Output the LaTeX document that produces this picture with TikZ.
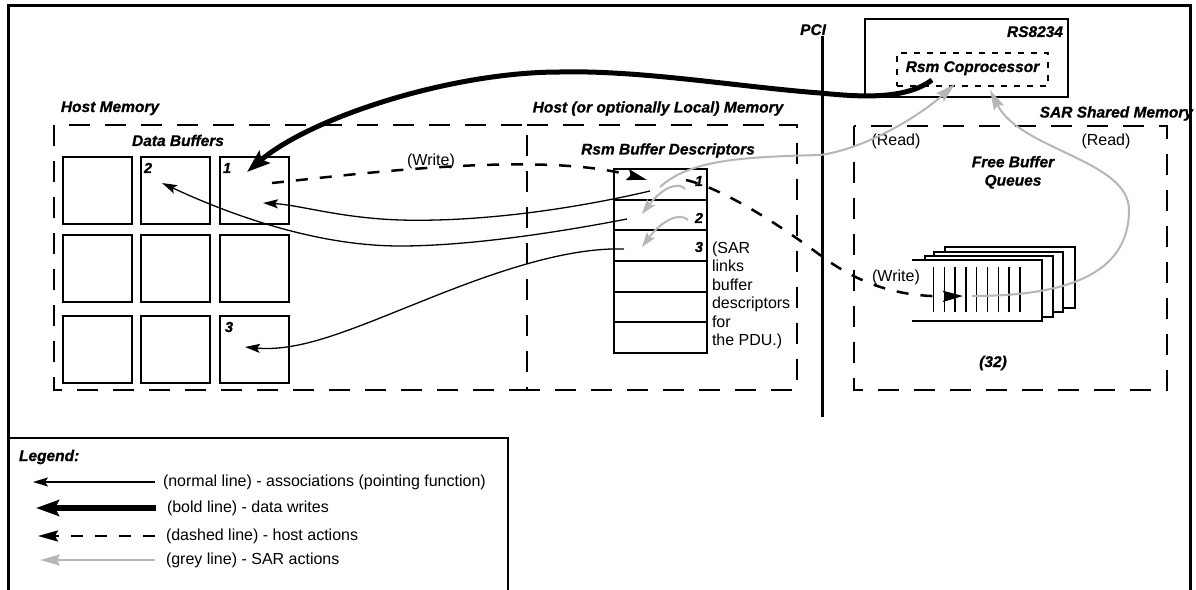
\documentclass[tikz,border=0pt]{standalone}
\usepackage{fontspec}
\setmainfont{Liberation Sans}[BoldItalicFeatures={FakeBold=0.8}]
\usetikzlibrary{arrows.meta}
\definecolor{sargrey}{RGB}{182,182,182}
\begin{document}
\begin{tikzpicture}[x=1bp,y=-1bp,
  every node/.style={inner sep=0pt, outer sep=0pt},
  ttl/.style={font=\fontsize{15.5bp}{18.4bp}\selectfont\bfseries\itshape},
  num/.style={font=\fontsize{14.5bp}{16bp}\selectfont\bfseries\itshape},
  txt/.style={font=\fontsize{16bp}{18.4bp}\selectfont},
  frame/.style={line width=3bp},
  boxline/.style={line width=2.2bp},
  region/.style={line width=2bp, dash pattern=on 21bp off 15bp},
  bufbox/.style={draw, line width=2.2bp, minimum width=69bp, minimum height=67bp},
  descrow/.style={draw, line width=2bp, minimum width=93bp, minimum height=30.7bp},
  queuebox/.style={draw, fill=white, line width=2.2bp},
  slot/.style={line width=1.3bp},
  assoc/.style={line width=1.3bp, -{Stealth[length=15bp,width=9bp,inset=3bp]}},
  datawrite/.style={line width=5bp, -{Stealth[length=23bp,width=16bp,inset=4bp]}},
  hostact/.style={line width=2.5bp, dash pattern=on 12bp off 12bp, -{Stealth[length=20bp,width=11bp,inset=3bp]}},
  saract/.style={line width=2bp, draw=sargrey, -{Stealth[length=20bp,width=11bp,inset=3bp,sargrey]}},
  sarhook/.style={line width=2bp, draw=sargrey, -{Stealth[length=15bp,width=10bp,inset=3bp,sargrey]}},
]
\useasboundingbox (0,0) rectangle (1196,590);

% ---- outer frame (open at the bottom) and legend box ----
\draw[frame] (8,590) -- (8,6) -- (1190,6) -- (1190,590);
\draw[boxline] (8,438) -- (508,438) -- (508,590);

% ---- memory regions ----
\draw[region] (54,125) rectangle (527,390);
\draw[region] (527,125) -- (797,125) -- (797,390) -- (527,390);
\draw[region] (854,126) rectangle (1167,390);

\node[ttl, anchor=base] (hostmem) at (110,112) {Host Memory};
\node[ttl, anchor=base] (databufs) at (178,146) {Data Buffers};
\node[ttl, anchor=base] (localmem) at (658,112.5) {Host (or optionally Local) Memory};
\node[ttl, anchor=base] (rsmdesc) at (668,154.5) {Rsm Buffer Descriptors};
\node[ttl, anchor=base east] (sarmem) at (1193,117.5) {SAR Shared Memory};

% ---- PCI bus ----
\node[ttl, anchor=base east] (pci) at (826,35) {PCI};
\coordinate (pciTop) at (822,36);
\coordinate (pciBot) at (822,417);
\draw[frame] (pciTop) -- (pciBot);

% ---- RS8234 with its coprocessor ----
\node[draw, line width=2bp, minimum width=203bp, minimum height=78bp] (chip) at (966.5,58) {};
\node[ttl, anchor=base east] (chipname) at (1063,37) {RS8234};
\node[draw, line width=1.8bp, dash pattern=on 6bp off 7bp, minimum width=151bp, minimum height=33bp] (cop) at (972.5,69.5) {};
\node[ttl, anchor=base] (copname) at (972.5,72) {Rsm Coprocessor};

% ---- data buffers (3 x 3) ----
\node[bufbox] (b11) at (97.5,190.5) {};
\node[bufbox] (b12) at (175.5,190.5) {};
\node[bufbox] (b13) at (254.5,190.5) {};
\node[bufbox] (b21) at (97.5,268.5) {};
\node[bufbox] (b22) at (175.5,268.5) {};
\node[bufbox] (b23) at (254.5,268.5) {};
\node[bufbox] (b31) at (97.5,349.5) {};
\node[bufbox] (b32) at (175.5,349.5) {};
\node[bufbox] (b33) at (254.5,349.5) {};
\node[num, anchor=base west] (n2) at (144,173) {2};
\node[num, anchor=base west] (n1) at (223,173) {1};
\node[num, anchor=base west] (n3) at (225,332) {3};

% ---- buffer descriptors ----
\node[descrow] (d1) at (660.5,184.3) {};
\node[descrow] (d2) at (660.5,215) {};
\node[descrow] (d3) at (660.5,245.7) {};
\node[descrow] (d4) at (660.5,276.3) {};
\node[descrow] (d5) at (660.5,307) {};
\node[descrow] (d6) at (660.5,337.7) {};
\node[num, anchor=base east] (dn1) at (703,186) {1};
\node[num, anchor=base east] (dn2) at (703,223) {2};
\node[num, anchor=base east] (dn3) at (703,252) {3};
\node[txt, anchor=north west, align=left] (sarnote) at (712,242)
  {(SAR\\links\\buffer\\descriptors\\for\\the PDU.)};

% ---- free buffer queues ----
\node[ttl, anchor=north, align=center] (fbq) at (1013,156) {Free Buffer\\Queues};
\node[queuebox, minimum width=130bp, minimum height=61bp] (q4) at (1010,277.5) {};
\node[queuebox, minimum width=129bp, minimum height=60bp] (q3) at (998.5,282) {};
\node[queuebox, minimum width=128bp, minimum height=61bp] (q2) at (989,286.5) {};
\node[fill=white, minimum width=130bp, minimum height=61bp] (q1) at (977,290.5) {};
\draw[boxline] (q1.north west) -- (q1.north east) -- (q1.south east) -- (q1.south west);
\foreach \i in {0,...,8}
  \draw[slot] (933.5+10.8*\i,267) -- (933.5+10.8*\i,312);
\node[ttl, anchor=base] (count) at (993,367) {(32)};

% ---- action labels ----
\node[txt, anchor=base] (readL) at (896,146) {(Read)};
\node[txt, anchor=base] (readR) at (1106,146) {(Read)};
\node[txt, anchor=base] (writeL) at (431,165.5) {(Write)};
\node[txt, anchor=base] (writeR) at (896,282) {(Write)};

% ---- connector end points ----
\coordinate (copOut) at (932,80);
\coordinate (b13in) at (247,172);
\coordinate (b13src) at (272,183);
\coordinate (d1in) at (647,180);
\coordinate (d1src) at (686,180);
\coordinate (q1in) at (963,296);
\coordinate (q1src) at (972,296);
\coordinate (d1read) at (660,187);
\coordinate (copInL) at (955,84);
\coordinate (copInR) at (990,90);
\coordinate (d1hook) at (685,189);
\coordinate (d2tip) at (642,214);
\coordinate (d2hook) at (688,220);
\coordinate (d3tip) at (642,247);
\coordinate (d1ptr) at (650,191);
\coordinate (b13ptr) at (263,203);
\coordinate (d2ptr) at (627,219);
\coordinate (b12ptr) at (162,183);
\coordinate (d3ptr) at (624,249);
\coordinate (b33ptr) at (245,347);

% ---- associations (pointers) ----
\draw[assoc] (d1ptr) .. controls (560,212) and (470,222) .. (400,220)
                     .. controls (340,218) and (300,205) .. (b13ptr);
\draw[assoc] (d2ptr) .. controls (560,232) and (470,246) .. (400,246)
                     .. controls (310,246) and (220,210) .. (b12ptr);
\draw[assoc] (d3ptr) .. controls (560,247) and (480,278) .. (420,302)
                     .. controls (350,330) and (300,352) .. (b33ptr);

% ---- host actions ----
\draw[hostact] (b13src) .. controls (350,175) and (540,150) .. (d1in);
\draw[hostact] (d1src) .. controls (720,188) and (770,218) .. (820,255)
                       .. controls (860,285) and (900,297) .. (q1in);

% ---- data write ----
\draw[datawrite] (copOut) .. controls (905,100) and (860,97) .. (820,93)
                          .. controls (740,87) and (640,70) .. (560,72)
                          .. controls (450,72) and (310,118) .. (b13in);

% ---- SAR actions ----
\draw[saract] (d1read) .. controls (690,160) and (740,157) .. (820,155)
                       .. controls (860,150) and (915,120) .. (copInL);
\draw[saract] (q1src) .. controls (1065,296) and (1129,275) .. (1129,210)
                      .. controls (1129,160) and (1020,150) .. (copInR);
\draw[sarhook] (d1hook) .. controls (678,181) and (662,188) .. (d2tip);
\draw[sarhook] (d2hook) .. controls (680,212) and (662,220) .. (d3tip);

% ---- legend ----
\node[ttl, anchor=base west] (legend) at (19,461) {Legend:};
\coordinate (la1) at (155,482); \coordinate (lb1) at (33,482);
\coordinate (la2) at (156,508); \coordinate (lb2) at (36,508);
\coordinate (la3) at (155,536); \coordinate (lb3) at (38,536);
\coordinate (la4) at (155,560); \coordinate (lb4) at (40,560);
\draw[assoc] (la1) -- (lb1);
\draw[datawrite, line width=5.5bp] (la2) -- (lb2);
\draw[hostact] (la3) -- (lb3);
\draw[saract] (la4) -- (lb4);
\node[txt, anchor=west] (lt1) at (163,482) {(normal line) - associations (pointing function)};
\node[txt, anchor=west] (lt2) at (167,508) {(bold line) - data writes};
\node[txt, anchor=west] (lt3) at (166,536) {(dashed line) - host actions};
\node[txt, anchor=west] (lt4) at (166,560) {(grey line) - SAR actions};
\end{tikzpicture}
\end{document}
